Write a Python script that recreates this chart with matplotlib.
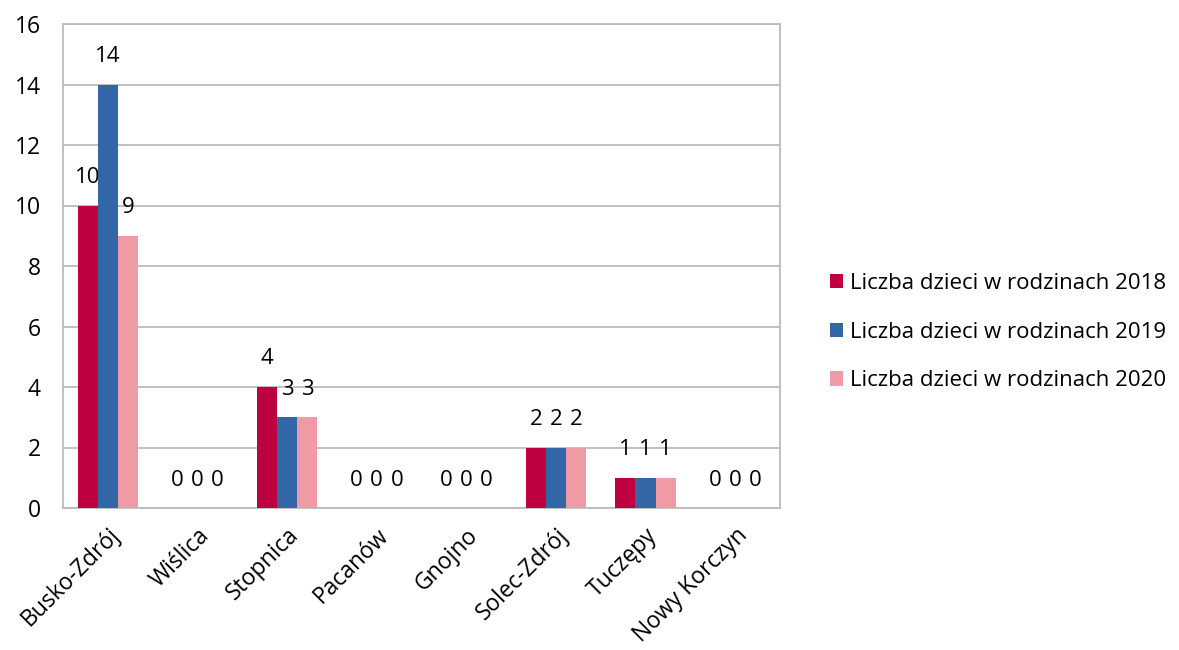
import numpy as np
import matplotlib
matplotlib.use('Agg')
import matplotlib.pyplot as plt

plt.rcParams['font.family'] = ['Open Sans', 'DejaVu Sans']

towns = ['Busko-Zdrój', 'Wiślica', 'Stopnica', 'Pacanów', 'Gnojno', 'Solec-Zdrój', 'Tuczępy', 'Nowy Korczyn']
y2018 = [10, 0, 4, 0, 0, 2, 1, 0]
y2019 = [14, 0, 3, 0, 0, 2, 1, 0]
y2020 = [9, 0, 3, 0, 0, 2, 1, 0]
series_names = ['Liczba dzieci w rodzinach 2018', 'Liczba dzieci w rodzinach 2019', 'Liczba dzieci w rodzinach 2020']
colors = ['#BE0041', '#3366A6', '#EE9BA5']

fs = 16

fig = plt.figure(figsize=(11.79, 6.5), dpi=100)
ax = fig.add_axes([63/1179, 1-508/650, (780-63)/1179, (508-24)/650])

x = np.arange(len(towns))
w = 0.225
for i, (vals, name, c) in enumerate(zip([y2018, y2019, y2020], series_names, colors)):
    pos = x + (i-1)*w
    ax.bar(pos, vals, width=w, color=c, label=name, zorder=3)
    for px, v in zip(pos, vals):
        ax.annotate(str(v), (px, v), xytext=(0, 28), textcoords='offset pixels',
                    ha='center', va='center', fontsize=fs)

ax.set_xlim(-0.5, len(towns)-0.5)
ax.set_ylim(0, 16)
ax.set_yticks(range(0, 17, 2))
ax.yaxis.grid(True, color='#BBBBBB', linewidth=1.3, zorder=0)
for s in ax.spines.values():
    s.set_color('#BBBBBB')
    s.set_linewidth(1.3)
ax.tick_params(axis='y', length=0, labelsize=16.5, pad=16)
ax.tick_params(axis='x', length=0, labelsize=16.5, pad=11)
ax.set_xticks(x)
ax.set_xticklabels(towns, rotation=45, ha='right', va='top', rotation_mode='anchor')

fig.legend(loc='center left', bbox_to_anchor=(810/1179, 1-332/650), frameon=False,
           fontsize=fs, handlelength=0.6, handleheight=0.6, handletextpad=0.3,
           labelspacing=1.25)

fig.savefig('out.png', dpi=100)
